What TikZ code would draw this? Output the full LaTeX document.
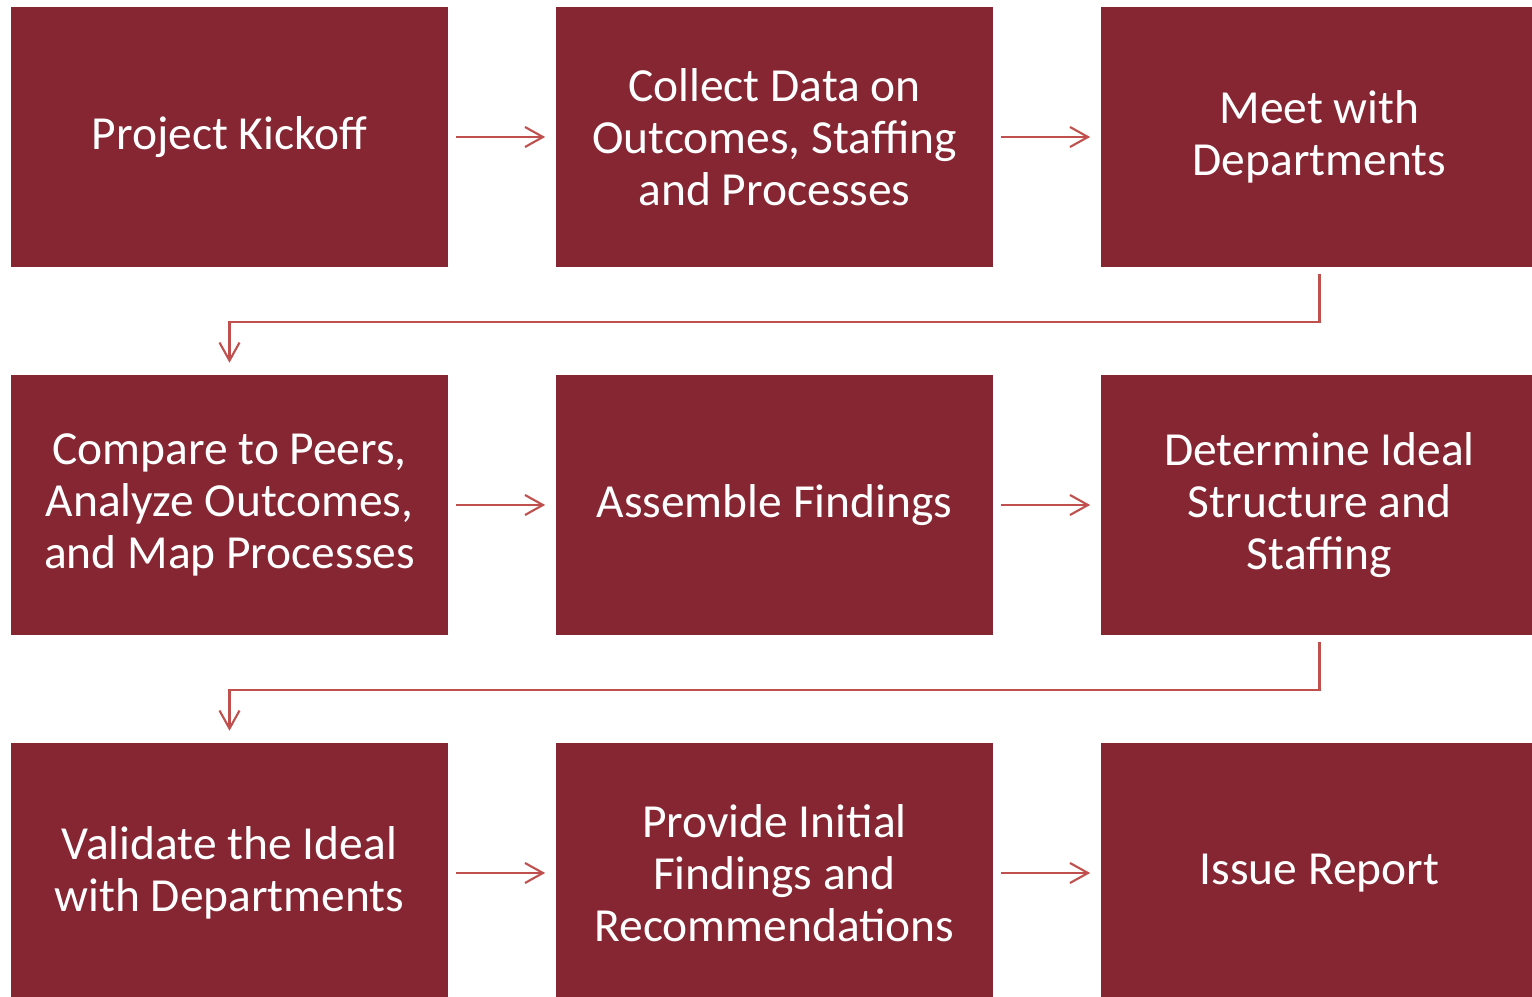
\documentclass[tikz,border=0pt]{standalone}
\usepackage{fontspec}
\setmainfont{Carlito}
\usetikzlibrary{arrows.meta}
\definecolor{boxred}{HTML}{862633}
\definecolor{linkred}{HTML}{C0504D}
\tikzset{
  stage/.style={fill=boxred, text=white, minimum width=4.37cm, minimum height=2.59cm,
    inner sep=0pt, align=center, font=\fontsize{13.5}{14.8}\selectfont},
  flow/.style={draw=linkred, line width=0.6pt, -{Straight Barb[length=0.18cm,width=0.2cm]},
    shorten <=0.07cm, shorten >=0.1cm}
}
\begin{document}
\begin{tikzpicture}[x=0.01cm,y=-0.01cm]
\useasboundingbox (0,0) rectangle (1532,997);
%Row 1
\node[stage] (kickoff) at (229.5,137) {Project Kickoff};
\node[stage] (collect) at (774.5,137) {Collect Data on\\Outcomes, Staffing\\and Processes};
\node[stage] (meet) at (1319.5,137) {Meet with\\Departments};
\draw[flow] (kickoff.east) -- (collect.west);
\draw[flow] (collect.east) -- (meet.west);

%Row 2
\node[stage] (compare) at (229.5,505) {Compare to Peers,\\Analyze Outcomes,\\and Map Processes};
\node[stage] (assemble) at (774.5,505) {Assemble Findings};
\node[stage] (ideal) at (1319.5,505) {Determine Ideal\\Structure and\\Staffing};
\draw[flow, shorten >=0.12cm] (meet.south) -- ++(0,55) -| (compare.north);
\draw[flow] (compare.east) -- (assemble.west);
\draw[flow] (assemble.east) -- (ideal.west);

%Row 3
\node[stage] (validate) at (229.5,873) {Validate the Ideal\\with Departments};
\node[stage] (provide) at (774.5,873) {Provide Initial\\Findings and\\Recommendations};
\node[stage] (report) at (1319.5,873) {Issue Report};
\draw[flow, shorten >=0.12cm] (ideal.south) -- ++(0,55) -| (validate.north);
\draw[flow] (validate.east) -- (provide.west);
\draw[flow] (provide.east) -- (report.west);
\end{tikzpicture}
\end{document}
